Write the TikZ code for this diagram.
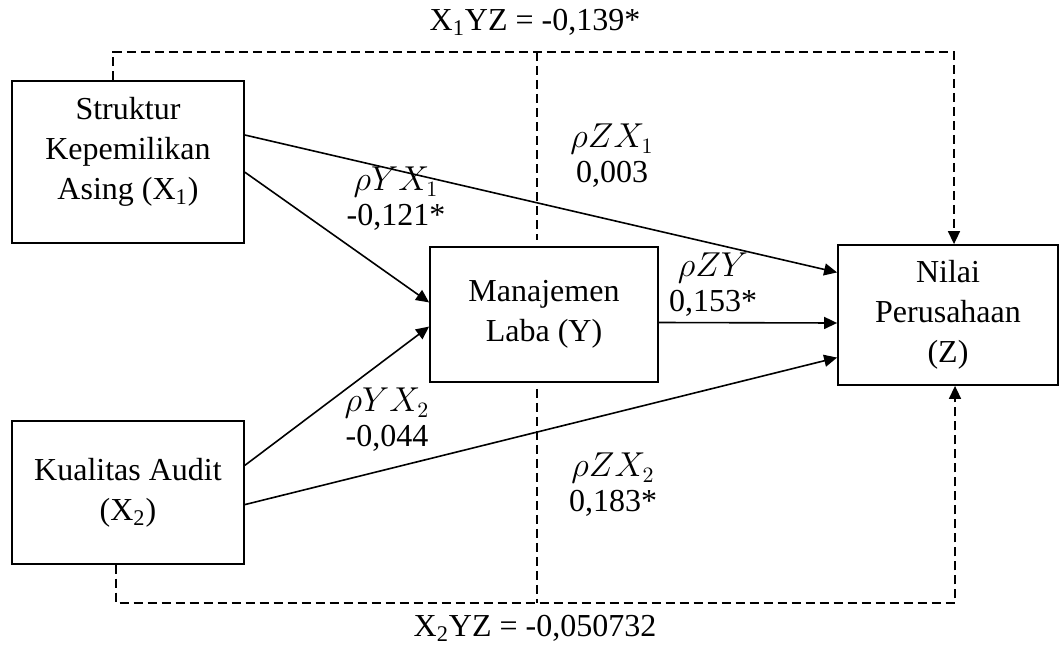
\documentclass[tikz,border=0pt]{standalone}
\usepackage{fontspec}
\setmainfont{Liberation Serif}
\usepackage{tikz}
\usetikzlibrary{arrows.meta,positioning}

\begin{document}
\begin{tikzpicture}[
    x=0.5pt, y=-0.5pt,
    var/.style={rectangle, draw, line width=0.9pt, align=center, font=\fontsize{16}{20}\selectfont},
    coef/.style={align=center, font=\fontsize{16}{17.5}\selectfont},
    label/.style={font=\fontsize{16}{20}\selectfont},
    arrow/.style={-{Triangle[length=6.5pt,width=6pt]}, line width=0.8pt},
    link/.style={line width=0.8pt, dash pattern=on 4.5pt off 2.5pt}
]
\useasboundingbox (0,0) rectangle (1059,647);

% Variables
\node[var, minimum width=116pt, minimum height=81pt] (x1) at (128,162) {Struktur\\Kepemilikan\\Asing (X\textsubscript{1})\\[-6pt]};
\node[var, minimum width=116pt, minimum height=71.5pt, below=88pt of x1] (x2) {Kualitas Audit\\(X\textsubscript{2})};
\node[var, minimum width=114pt, minimum height=67.5pt] (y) at (544,314.5) {Manajemen\\Laba (Y)};
\node[var, minimum width=110pt, minimum height=70pt] (z) at (948,315) {Nilai\\Perusahaan\\(Z)};

% Direct paths
\draw[arrow] (x1.-5) -- (y.174);
\draw[arrow] (x2.13) -- (y.186);
\draw[arrow] (x1.13) -- (z.159);
\draw[arrow] ([yshift=-4pt]y.east) -- ([yshift=-4pt]z.west);
\draw[arrow] (x2.-6) -- (z.201);

% Indirect paths
\coordinate (top) at (537,52);
\coordinate (bot) at (537,603);
\draw[link, arrow] ([xshift=-7.5pt]x1.north) |- (top) -| ([xshift=3pt]z.north);
\draw[link] (top) -- ([xshift=-3.5pt,yshift=3pt]y.north);
\draw[link, arrow] ([xshift=-6pt]x2.south) |- (bot) -| ([xshift=3.5pt]z.south);
\draw[link] ([xshift=-3.5pt,yshift=-3pt]y.south) -- (bot);

% Coefficients
\node[coef] (cyx1) at (396,199) {$\rho YX_1$\\-0,121*};
\node[coef] (czx1) at (612,156) {$\rho ZX_1$\\0,003};
\node[coef] (czy) at (713,285) {$\rho ZY$\\0,153*};
\node[coef] (cyx2) at (387,420) {$\rho YX_2$\\-0,044};
\node[coef] (czx2) at (613,485) {$\rho ZX_2$\\0,183*};

\node[label] (lbltop) at (535,22) {X\textsubscript{1}YZ = -0,139*};
\node[label] (lblbot) at (535,628) {X\textsubscript{2}YZ = -0,050732};

\end{tikzpicture}
\end{document}
